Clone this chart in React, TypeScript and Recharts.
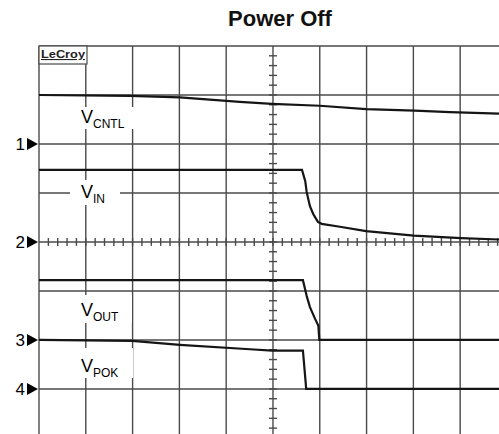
import { ComposedChart, Line, ReferenceLine, XAxis, YAxis } from "recharts";

const WIDTH = 499;
const HEIGHT = 434;
const TITLE = "Power Off";

// screen in divisions: 10 across (last one cut off), 8 down (bottom edge cut off)
const T_MAX = 9.83;
const V_MIN = 0.08;
const V_MAX = 8;
const TIME_DIVS = [0, 1, 2, 3, 4, 5, 6, 7, 8, 9];
const VOLT_DIVS = [1, 2, 3, 4, 5, 6, 7, 8];

// traces, [time div, screen div]
const vcntl: [number, number][] = [
  [0, 7.0], [1.94, 6.98], [3.01, 6.95], [4.29, 6.86], [4.98, 6.82],
  [6.0, 6.78], [6.99, 6.71], [8.03, 6.68], [8.78, 6.65], [9.83, 6.62],
];
const vin: [number, number][] = [
  [0, 5.47], [5.62, 5.47], [5.69, 5.24], [5.72, 5.02], [5.79, 4.73],
  [5.86, 4.57], [5.96, 4.41], [6.04, 4.37], [6.43, 4.31], [6.99, 4.22],
  [8.01, 4.13], [9.02, 4.08], [9.83, 4.05],
];
const vout: [number, number][] = [
  [0, 3.22], [5.64, 3.22], [5.72, 2.9], [5.79, 2.67], [5.9, 2.43],
  [5.97, 2.29], [5.99, 2.0], [9.83, 2.0],
];
const vpok: [number, number][] = [
  [0, 2.0], [1.99, 1.98], [3.01, 1.9], [4.51, 1.81], [4.98, 1.78],
  [5.64, 1.78], [5.71, 1.0], [9.83, 1.0],
];

const traces = [vcntl, vin, vout, vpok];

// channel ground markers on the left edge
const markerLevels = [6, 4, 2, 1];
const markerNames = ["1", "2", "3", "4"];

const labelMains = ["V", "V", "V", "V"];
const labelSubs = ["CNTL", "IN", "OUT", "POK"];
const labelBoxes = [
  { x: 72, y: 107, w: 62, h: 22, base: 123 },
  { x: 70, y: 180, w: 50, h: 25, base: 198 },
  { x: 72, y: 295, w: 60, h: 28, base: 316 },
  { x: 72, y: 348, w: 61, h: 30, base: 372 },
];

const GRID = "#4a4a4a";
const TRACE = "#151515";

const toPoints = (pts: [number, number][]) => pts.map(([t, v]) => ({ t, v }));

function MarkerTick(props: any) {
  const { y, index } = props;
  return (
    <g>
      <text
        x={25}
        y={y + 6}
        textAnchor="end"
        fontSize={17}
        fontFamily="Liberation Sans, Arial, sans-serif"
        fill="#000"
      >
        {markerNames[index]}
      </text>
      <polygon points={`27,${y - 6} 38,${y} 27,${y + 6}`} fill="#000" />
    </g>
  );
}

export default function App() {
  const minorV: number[] = [];
  for (let k = 1; k < 40; k++) minorV.push(k / 5);
  const minorT: number[] = [];
  for (let k = 1; k < 50; k++) minorT.push(k / 5);

  return (
    <div
      style={{
        position: "absolute",
        left: 0,
        top: 0,
        width: WIDTH,
        height: HEIGHT,
        background: "#fff",
        fontFamily: "Liberation Sans, Arial, sans-serif",
      }}
    >
      <ComposedChart
        width={WIDTH}
        height={HEIGHT}
        margin={{ top: 46, right: 0, bottom: 0, left: 0 }}
      >
        <XAxis
          type="number"
          dataKey="t"
          domain={[0, T_MAX]}
          allowDataOverflow
          hide
        />
        <YAxis
          type="number"
          dataKey="v"
          domain={[V_MIN, V_MAX]}
          allowDataOverflow
          width={39}
          ticks={markerLevels}
          interval={0}
          axisLine={false}
          tickLine={false}
          tick={(p: any) => <MarkerTick {...p} />}
        />
        {TIME_DIVS.map((t) => (
          <ReferenceLine key={`gt${t}`} x={t} stroke={GRID} strokeWidth={1.4} />
        ))}
        {VOLT_DIVS.map((v) => (
          <ReferenceLine key={`gv${v}`} y={v} stroke={GRID} strokeWidth={1.4} />
        ))}
        {minorV.map((v) => (
          <ReferenceLine
            key={`mv${v}`}
            segment={[
              { x: 5 - 0.085, y: v },
              { x: 5 + 0.085, y: v },
            ]}
            stroke={GRID}
            strokeWidth={1.4}
          />
        ))}
        {minorT.map((t) => (
          <ReferenceLine
            key={`mt${t}`}
            segment={[
              { x: t, y: 4 - 0.08 },
              { x: t, y: 4 + 0.08 },
            ]}
            stroke={GRID}
            strokeWidth={1.4}
          />
        ))}
        {traces.map((pts, i) => (
          <Line
            key={`tr${i}`}
            data={toPoints(pts)}
            dataKey="v"
            type="linear"
            stroke={TRACE}
            strokeWidth={2.2}
            dot={false}
            activeDot={false}
            isAnimationActive={false}
          />
        ))}
      </ComposedChart>
      <svg
        width={WIDTH}
        height={HEIGHT}
        style={{ position: "absolute", left: 0, top: 0, pointerEvents: "none" }}
      >
        <text
          x={280}
          y={26}
          textAnchor="middle"
          fontSize={22}
          fontWeight="bold"
          fontFamily="Liberation Sans, Arial, sans-serif"
          fill="#111"
        >
          {TITLE}
        </text>
        <rect x={39} y={46} width={48} height={18} fill="#fff" stroke={GRID} strokeWidth={1.2} />
        <text
          x={41}
          y={58}
          fontSize={11}
          fontWeight="bold"
          fontFamily="Liberation Sans, Arial, sans-serif"
          fill="#222"
          textDecoration="underline"
          textLength={44}
          lengthAdjust="spacingAndGlyphs"
        >
          LeCroy
        </text>
        {labelBoxes.map((b, i) => (
          <g key={`lb${i}`}>
            <rect x={b.x} y={b.y} width={b.w} height={b.h} fill="#fff" />
            <text
              x={81}
              y={b.base}
              fontSize={18}
              fontFamily="Liberation Sans, Arial, sans-serif"
              fill="#000"
            >
              {labelMains[i]}
              <tspan fontSize={12} dy={4.5}>
                {labelSubs[i]}
              </tspan>
            </text>
          </g>
        ))}
      </svg>
    </div>
  );
}
